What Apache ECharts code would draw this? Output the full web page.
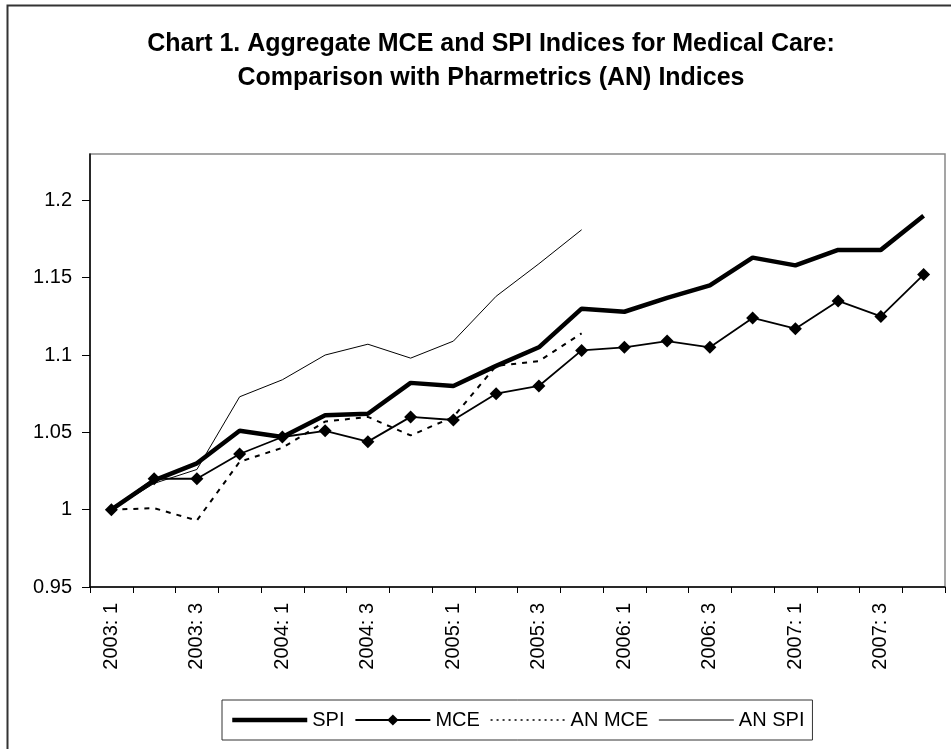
<!DOCTYPE html>
<html>
<head>
<meta charset="utf-8">
<script src="https://cdn.jsdelivr.net/npm/echarts@6/dist/echarts.min.js"></script>
<style>
  html, body { margin: 0; padding: 0; background: #fff; }
  #chart-container { width: 951px; height: 749px; }
</style>
</head>
<body>
<div id="chart-container"></div>
<script>
// quarters 2003:1 .. 2007:4
var quarters = [
  '2003: 1', '2003: 2', '2003: 3', '2003: 4',
  '2004: 1', '2004: 2', '2004: 3', '2004: 4',
  '2005: 1', '2005: 2', '2005: 3', '2005: 4',
  '2006: 1', '2006: 2', '2006: 3', '2006: 4',
  '2007: 1', '2007: 2', '2007: 3', '2007: 4'
];
var spi = [1.000, 1.019, 1.030, 1.051, 1.047, 1.061, 1.062, 1.082, 1.080, 1.093,
           1.105, 1.130, 1.128, 1.137, 1.145, 1.163, 1.158, 1.168, 1.168, 1.190];
var mce = [1.000, 1.020, 1.020, 1.036, 1.047, 1.051, 1.044, 1.060, 1.058, 1.075,
           1.080, 1.103, 1.105, 1.109, 1.105, 1.124, 1.117, 1.135, 1.125, 1.152];
var anMce = [1.000, 1.001, 0.993, 1.031, 1.040, 1.057, 1.060, 1.048, 1.060, 1.093,
             1.096, 1.114];
var anSpi = [1.000, 1.017, 1.026, 1.073, 1.084, 1.100, 1.107, 1.098, 1.109, 1.138,
             1.159, 1.181];
var yTicks = { min: 0.95, max: 1.23, step: 0.05 };

var dom = document.getElementById('chart-container');
var myChart = echarts.init(dom, null, { renderer: 'canvas' });
var font = 'Liberation Sans, Arial, sans-serif';
// legend: hide the marker symbol on plain lines, keep the line widths
var noMark = { color: 'rgba(0,0,0,0)', borderWidth: 0 };

var option = {
  animation: false,
  backgroundColor: '#fff',
  textStyle: { fontFamily: font, color: '#000' },
  graphic: [{
    type: 'rect',
    shape: { x: 7.5, y: 5.5, width: 1000, height: 800 },
    style: { fill: null, stroke: '#333', lineWidth: 2 },
    silent: true
  }],
  title: {
    text: 'Chart 1. Aggregate MCE and SPI Indices for Medical Care:\nComparison with Pharmetrics (AN) Indices',
    left: 486,
    top: 22,
    textAlign: 'center',
    textStyle: { fontFamily: font, fontSize: 25, fontWeight: 'bold', lineHeight: 34, color: '#000' }
  },
  legend: {
    left: 222,
    top: 700,
    orient: 'horizontal',
    itemWidth: 75,
    itemHeight: 14,
    itemGap: 10,
    padding: [10, 8],
    borderColor: '#333',
    borderWidth: 1,
    textStyle: { fontFamily: font, fontSize: 20, color: '#000' },
    data: [
      { name: 'SPI', itemStyle: noMark, lineStyle: { width: 4.5 } },
      { name: 'MCE', lineStyle: { width: 1.8 } },
      { name: 'AN MCE', itemStyle: noMark, lineStyle: { width: 1.5, type: [2, 4] } },
      { name: 'AN SPI', itemStyle: noMark, lineStyle: { width: 1 } }
    ]
  },
  grid: {
    left: 90,
    right: 6,
    top: 154,
    bottom: 162,
    show: true,
    borderColor: '#888',
    borderWidth: 1.5
  },
  xAxis: {
    type: 'category',
    data: quarters,
    boundaryGap: true,
    axisLine: { lineStyle: { color: '#000', width: 1.5 } },
    axisTick: { show: true, interval: 0, length: 6, lineStyle: { color: '#000' } },
    axisLabel: {
      interval: 1,
      rotate: 90,
      margin: 16,
      fontSize: 20,
      color: '#000',
      fontFamily: font
    },
    splitLine: { show: false }
  },
  yAxis: {
    type: 'value',
    min: yTicks.min,
    max: yTicks.max,
    interval: yTicks.step,
    axisLine: { show: true, lineStyle: { color: '#000', width: 1.5 } },
    axisTick: { show: true, length: 8, lineStyle: { color: '#000' } },
    axisLabel: {
      margin: 18,
      fontSize: 20,
      color: '#000',
      fontFamily: font,
      showMaxLabel: false,
      formatter: function (v) { return String(parseFloat(v.toFixed(2))); }
    },
    splitLine: { show: false }
  },
  series: [
    {
      name: 'SPI',
      type: 'line',
      data: spi,
      symbol: 'none',
      lineStyle: { color: '#000', width: 4.5 },
      itemStyle: { color: '#000' },
      z: 4
    },
    {
      name: 'MCE',
      type: 'line',
      data: mce,
      symbol: 'diamond',
      symbolSize: 13,
      lineStyle: { color: '#000', width: 1.8 },
      itemStyle: { color: '#000' },
      z: 5
    },
    {
      name: 'AN MCE',
      type: 'line',
      data: anMce,
      symbol: 'none',
      lineStyle: { color: '#000', width: 2, type: [5, 6] },
      itemStyle: { color: '#000' },
      z: 3
    },
    {
      name: 'AN SPI',
      type: 'line',
      data: anSpi,
      symbol: 'none',
      lineStyle: { color: '#000', width: 1 },
      itemStyle: { color: '#000' },
      z: 2
    }
  ]
};

myChart.setOption(option);
window.addEventListener('resize', myChart.resize);
</script>
</body>
</html>
